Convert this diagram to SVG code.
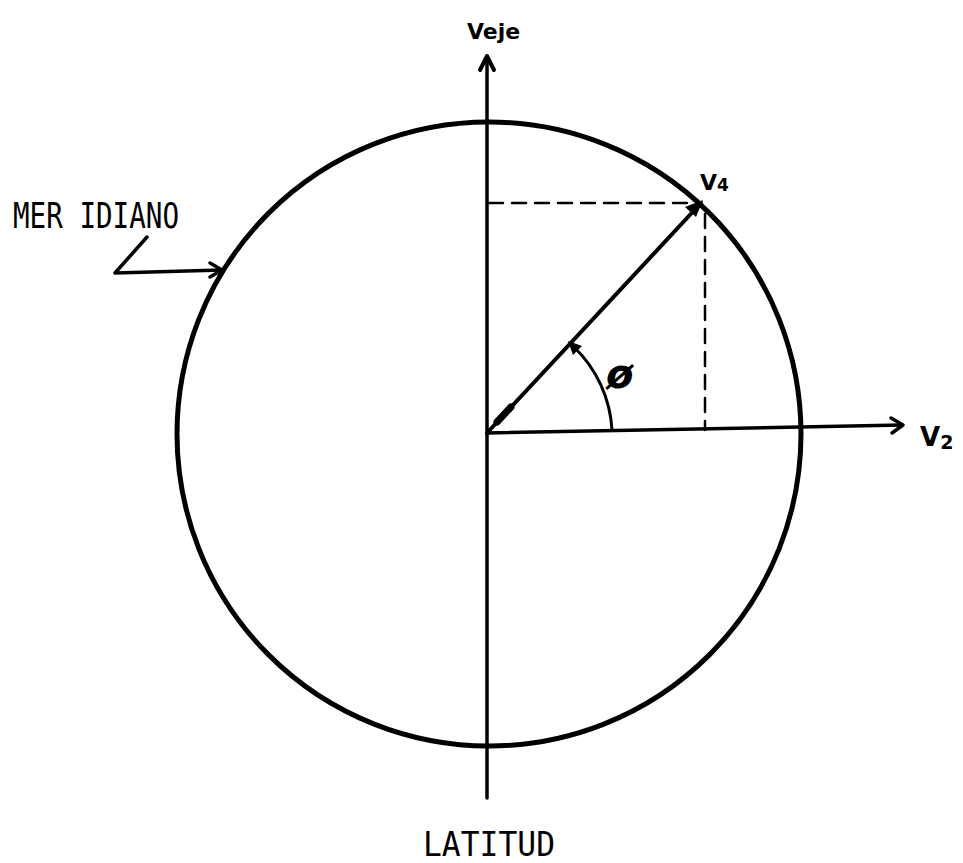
<svg xmlns="http://www.w3.org/2000/svg" width="963" height="863" viewBox="0 0 963 863">
<defs>
<style>
.ln{stroke:#000;fill:none;stroke-linecap:round;stroke-linejoin:round}
.ax{stroke-width:3.5}
.ds{stroke-width:2.5;stroke-dasharray:14 9}
.lbl{font-family:"DejaVu Sans Mono","Liberation Mono",monospace;fill:#000}
.hand{font-family:"DejaVu Sans","Liberation Sans",sans-serif;fill:#000;font-weight:bold}
</style>
</defs>
<rect width="963" height="863" fill="#fff"/>
<g id="circle">
<circle class="ln" cx="489" cy="434" r="312" stroke-width="5"/>
</g>
<g id="connectors">
<line class="ln ax" x1="487" y1="798" x2="487" y2="57"/>
<polyline class="ln" stroke-width="4" points="480,70 487,56 494,70"/>
<line class="ln ax" x1="487" y1="433" x2="902" y2="425"/>
<polyline class="ln" stroke-width="3.5" points="891,418 903,425 892,433"/>
<line class="ln" stroke-width="4" x1="487" y1="433" x2="701" y2="203"/>
<polygon points="703,200 685,207 696,217" fill="#000"/>
<line class="ln" stroke-width="7" x1="497" y1="422" x2="511" y2="407"/>
<line class="ln ds" x1="489" y1="203" x2="690" y2="203"/>
<line class="ln ds" x1="705" y1="214" x2="705" y2="430"/>
<path class="ln" stroke-width="3" d="M612,430 A125,125 0 0 0 574,347"/>
<polygon points="568,341 582,346 573,355" fill="#000"/>
<polyline class="ln" stroke-width="3.5" points="147,237 115,273 222,270"/>
<polyline class="ln" stroke-width="3.5" points="210,263 222,270 210,277"/>
</g>
<g id="labels">
<text class="hand" x="467" y="39" font-size="22">Veje</text>
<text class="hand" x="700" y="190" font-size="22">V<tspan font-size="17" dy="1">4</tspan></text>
<text class="hand" x="920" y="446" font-size="26">V<tspan font-size="19" dy="3">2</tspan></text>
<text class="hand" x="606" y="388" font-size="40" font-weight="normal" font-style="italic">ø</text>
<text class="lbl" x="13" y="228" font-size="35" textLength="166" lengthAdjust="spacingAndGlyphs">MER IDIANO</text>
<text class="lbl" x="423" y="856" font-size="33" textLength="132" lengthAdjust="spacingAndGlyphs">LATITUD</text>
</g>
</svg>
